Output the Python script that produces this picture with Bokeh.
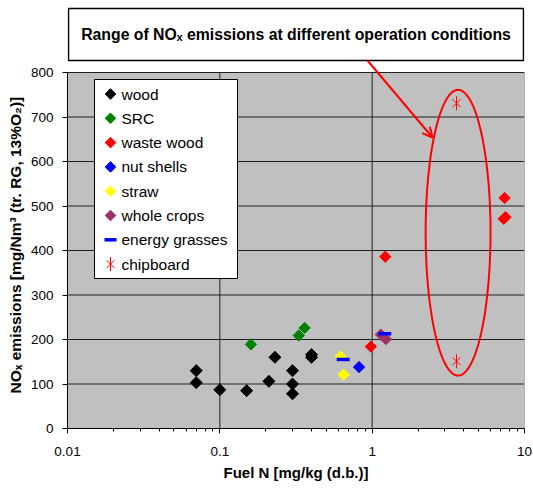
import numpy as np
from bokeh.plotting import figure
from bokeh.models import (Range1d, FixedTicker, CustomJSTickFormatter, Label, Arrow,
                          OpenHead, BoxAnnotation, Title)
from bokeh.embed import file_html
from bokeh.resources import INLINE

# ---- data ----
wood_x = [0.07, 0.07, 0.10, 0.15, 0.21, 0.23, 0.30, 0.30, 0.30, 0.40, 0.40]
wood_y = [130, 103, 87, 85, 106, 160, 130, 100, 78, 166, 160]
src_x = [0.16, 0.33, 0.36]
src_y = [189, 209, 226]
waste_x = [0.98, 1.22, 7.4, 7.3, 7.5]
waste_y = [184, 386, 518, 471, 475]
nut_x = [0.82]
nut_y = [138]
straw_x = [0.62, 0.65]
straw_y = [162, 121]
crops_x = [1.14, 1.23]
crops_y = [211, 201]
grass_x = [0.645, 1.21]
grass_y = [155, 213]
chip_x = [3.58, 3.58]
chip_y = [731, 151]

series_names = ["wood", "SRC", "waste wood", "nut shells", "straw",
                "whole crops", "energy grasses", "chipboard"]
y_ticks = [0, 100, 200, 300, 400, 500, 600, 700, 800]
x_ticks = [0.01, 0.1, 1, 10]
x_grid = [0.1, 1]

x_title = "Fuel N [mg/kg (d.b.)]"
y_title = "NOₓ emissions [mg/Nm³ (tr. RG, 13%O₂)]"
annotation_text = "Range of NOₓ emissions at different operation conditions"
# ellipse around the chipboard range (log10 centre, half width in decades)
ell_logx, ell_half_dec = 0.564, 0.213
ell_y, ell_half_y = 440, 321

FONT = "Liberation Sans"

# ---- layout (canvas pixels) ----
W, H = 533, 488
B_LEFT, B_RIGHT, B_BOTTOM, B_TOP = 67, 9, 60, 0
PLOT_TOP_PX = 72                       # canvas y where the 800 line sits
frame_w = W - B_LEFT - B_RIGHT
frame_h = H - B_BOTTOM - B_TOP
ymax = y_ticks[-1] * frame_h / (frame_h - (PLOT_TOP_PX - B_TOP))
lx0, lx1 = np.log10(x_ticks[0]), np.log10(x_ticks[-1])


def cx_to_data(cx):
    return 10 ** (lx0 + (cx - B_LEFT) / frame_w * (lx1 - lx0))


def cy_to_data(cy):
    return (H - B_BOTTOM - cy) * ymax / frame_h


def scr_x(cx):
    return cx - B_LEFT


def scr_y(cy):
    return H - B_BOTTOM - cy


p = figure(width=W, height=H, x_axis_type="log",
           x_range=Range1d(x_ticks[0], x_ticks[-1]), y_range=Range1d(0, ymax),
           output_backend="svg", toolbar_location=None,
           min_border_left=B_LEFT, min_border_right=B_RIGHT,
           min_border_top=B_TOP, min_border_bottom=B_BOTTOM)
p.background_fill_color = "white"
p.border_fill_color = "white"
p.outline_line_color = None
p.xgrid.grid_line_color = None
p.ygrid.grid_line_color = None

# plot area background + grid
p.quad(left=[x_ticks[0]], right=[x_ticks[-1]], bottom=[y_ticks[0]], top=[y_ticks[-1]],
       fill_color="#C0C0C0", line_color="#808080", line_width=1)
p.segment(x0=[x_ticks[0]] * len(y_ticks), x1=[x_ticks[-1]] * len(y_ticks),
          y0=y_ticks, y1=y_ticks, line_color="#202020", line_width=1)
p.segment(x0=x_grid, x1=x_grid, y0=[y_ticks[0]] * len(x_grid), y1=[y_ticks[-1]] * len(x_grid),
          line_color="#202020", line_width=1)

# axes
p.yaxis.ticker = FixedTicker(ticks=y_ticks, minor_ticks=[])
p.yaxis.bounds = (y_ticks[0], y_ticks[-1])
p.xaxis.ticker = FixedTicker(ticks=x_ticks,
                             minor_ticks=[k * 10.0 ** d for d in (-2, -1, 0) for k in range(2, 10)])
p.xaxis.formatter = CustomJSTickFormatter(code="return tick.toString();")
for ax in (p.xaxis[0], p.yaxis[0]):
    ax.axis_line_color = "black"
    ax.major_tick_line_color = "black"
    ax.minor_tick_line_color = "black"
    ax.major_tick_in = 0
    ax.major_tick_out = 5
    ax.minor_tick_in = 0
    ax.minor_tick_out = 3
    ax.major_label_text_font = FONT
    ax.major_label_text_font_size = "13.5px"
    ax.major_label_text_color = "black"
    ax.axis_label_text_font = FONT
    ax.axis_label_text_font_style = "bold"
    ax.axis_label_text_color = "black"
p.xaxis.axis_label = x_title
p.xaxis.axis_label_text_font_size = "15px"
p.xaxis.major_label_standoff = 13
p.yaxis.major_label_standoff = 9
p.xaxis.axis_label_standoff = 5

# y title placed as a side title so that it can start just above the x axis
p.add_layout(Title(text=y_title, align="left", offset=35, standoff=8,
                   text_font=FONT, text_font_size="15.5px", text_font_style="bold",
                   text_color="black"), "left")

ang = np.pi / 4
styles = {
    "wood": dict(marker="square", angle=ang, size=8.5, color="black"),
    "SRC": dict(marker="square", angle=ang, size=8, color="#008000"),
    "waste wood": dict(marker="square", angle=ang, size=8, color="#FF0000"),
    "nut shells": dict(marker="square", angle=ang, size=8, color="#0000FF"),
    "straw": dict(marker="square", angle=ang, size=8, color="#FFFF00"),
    "whole crops": dict(marker="square", angle=ang, size=8, color="#993366"),
    "energy grasses": dict(marker="dash", size=13, line_color="#0000FF", line_width=3.5),
}
chip_styles = [dict(marker="x", size=11, line_color="#FF0000", line_width=1),
               dict(marker="dash", angle=np.pi / 2, size=14, line_color="#FF0000", line_width=1)]

series = {"wood": (wood_x, wood_y), "SRC": (src_x, src_y), "waste wood": (waste_x, waste_y),
          "nut shells": (nut_x, nut_y), "straw": (straw_x, straw_y),
          "whole crops": (crops_x, crops_y), "energy grasses": (grass_x, grass_y)}
for name, (xs, ys) in series.items():
    p.scatter(xs, ys, **styles[name])
for st in chip_styles:
    p.scatter(chip_x, chip_y, **st)

# ellipse annotation
t = np.linspace(0, 2 * np.pi, 200)
p.line(10 ** (ell_logx + ell_half_dec * np.cos(t)), ell_y + ell_half_y * np.sin(t),
       line_color="#FF0000", line_width=2)

# annotation box with text
BOX_L, BOX_R, BOX_T, BOX_B = 68, 523, 8, 60
p.add_layout(BoxAnnotation(left=scr_x(BOX_L), right=scr_x(BOX_R),
                           bottom=scr_y(BOX_B), top=scr_y(BOX_T),
                           left_units="screen", right_units="screen",
                           bottom_units="screen", top_units="screen",
                           fill_color="white", fill_alpha=1,
                           line_color="black", line_width=1.5, line_alpha=1))
p.add_layout(Label(x=scr_x((BOX_L + BOX_R) / 2), y=scr_y((BOX_T + BOX_B) / 2),
                   x_units="screen", y_units="screen", text=annotation_text,
                   text_align="center", text_baseline="middle", text_font=FONT,
                   text_font_size="15.8px", text_font_style="bold", text_color="black"))

# arrow from the box to the ellipse
p.add_layout(Arrow(x_start=cx_to_data(367), y_start=cy_to_data(BOX_B),
                   x_end=cx_to_data(432), y_end=cy_to_data(137),
                   line_color="#FF0000", line_width=2,
                   end=OpenHead(size=10, line_color="#FF0000", line_width=2)))

# legend (drawn by hand so that the diamonds keep their shape)
LEG_L, LEG_R, LEG_T, LEG_B = 94, 237, 79, 278
LEG_Y0, LEG_DY, LEG_GX, LEG_TX = 93.5, 24.3, 110, 121
p.add_layout(BoxAnnotation(left=scr_x(LEG_L), right=scr_x(LEG_R),
                           bottom=scr_y(LEG_B), top=scr_y(LEG_T),
                           left_units="screen", right_units="screen",
                           bottom_units="screen", top_units="screen",
                           fill_color="white", fill_alpha=1,
                           line_color="black", line_width=1, line_alpha=1))
for i, name in enumerate(series_names):
    cy = LEG_Y0 + i * LEG_DY
    gx, gy = [cx_to_data(LEG_GX)], [cy_to_data(cy)]
    if name == "chipboard":
        for st in chip_styles:
            p.scatter(gx, gy, level="overlay", **st)
    else:
        st = dict(styles[name])
        st["size"] = 7.5 if st["marker"] == "square" else 12
        p.scatter(gx, gy, level="overlay", **st)
    p.add_layout(Label(x=scr_x(LEG_TX), y=scr_y(cy), x_units="screen", y_units="screen",
                       text=name, text_align="left", text_baseline="middle",
                       text_font=FONT, text_font_size="15.5px", text_color="black",
                       level="overlay"))

open("out.html", "w").write(file_html(p, INLINE))
